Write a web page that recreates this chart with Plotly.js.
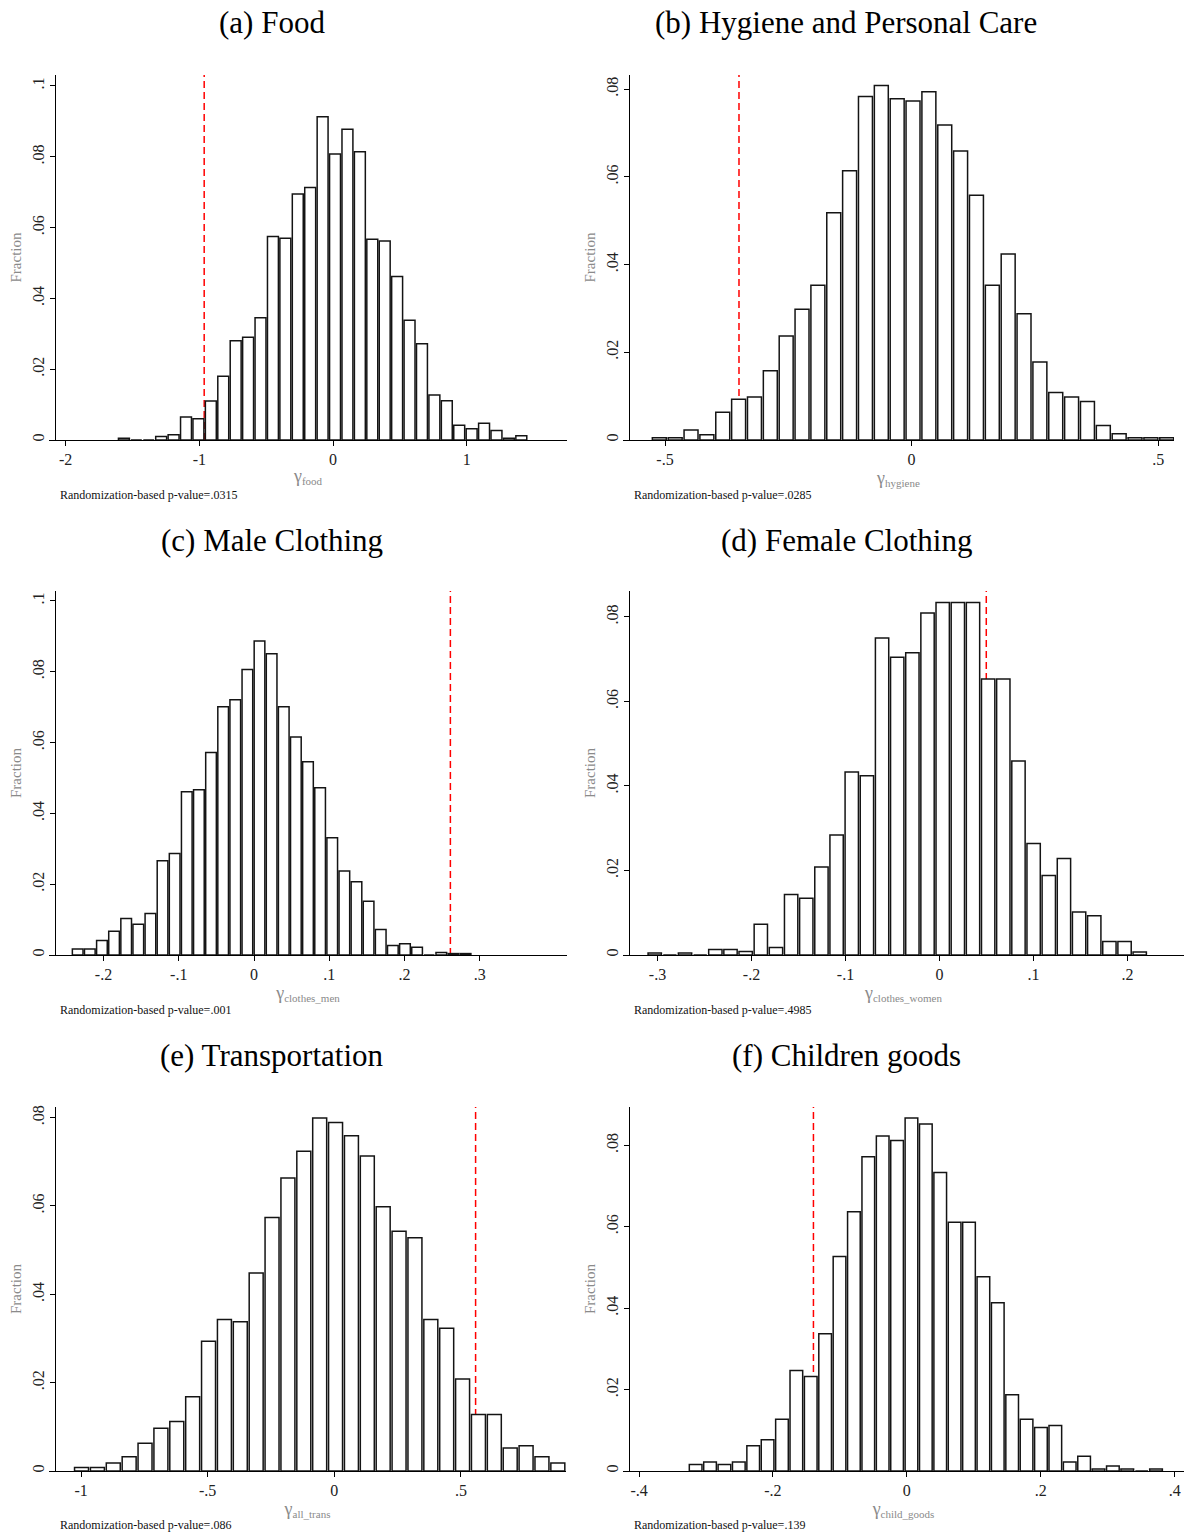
<!DOCTYPE html>
<html>
<head>
<meta charset="utf-8">
<script src="https://cdn.plot.ly/plotly-3.0.1.min.js"></script>
<style>
  html, body { margin: 0; padding: 0; background: #ffffff; }
  #chart { width: 1185px; height: 1533px; }
</style>
</head>
<body>
<div id="chart"></div>
<script>
// ---------------- DATA ----------------
// Panel titles and x-axis subscripts
const panelTitles = ['(a) Food', '(b) Hygiene and Personal Care', '(c) Male Clothing',
                     '(d) Female Clothing', '(e) Transportation', '(f) Children goods'];
const coefSubscripts = ['food', 'hygiene', 'clothes_men', 'clothes_women', 'all_trans', 'child_goods'];
const pValues = ['.0315', '.0285', '.001', '.4985', '.086', '.139'];

// Observed (actual) coefficients, drawn as red dashed lines
const observedCoef = [-0.964, -0.35, 0.261, 0.0497, 0.558, -0.1395];

// Histogram bins (33 bins: first bin lower edge and bin width) and fractions per bin
const foodBinStart = -1.611, foodBinWidth = 0.0929;
const foodFraction = [0.0005, 0, 0, 0.001, 0.0015, 0.0065, 0.006, 0.011, 0.018, 0.028, 0.029,
  0.0345, 0.0575, 0.057, 0.0695, 0.0713, 0.0913, 0.0808, 0.0878, 0.0814, 0.0567, 0.0562,
  0.0462, 0.0338, 0.0272, 0.0127, 0.0111, 0.0042, 0.0032, 0.0047, 0.0027, 0.0005, 0.0012];

const hygieneBinStart = -0.5276, hygieneBinWidth = 0.03215;
const hygieneFraction = [0.0005, 0.0005, 0.0023, 0.0012, 0.0063, 0.0093, 0.0098, 0.0158, 0.0237,
  0.0298, 0.0353, 0.0518, 0.0614, 0.0783, 0.0808, 0.0778, 0.0773, 0.0794, 0.0718, 0.0659,
  0.0558, 0.0353, 0.0424, 0.0288, 0.0178, 0.0108, 0.0098, 0.0088, 0.0033, 0.0014, 0.0005,
  0.0005, 0.0005];

const menBinStart = -0.2424, menBinWidth = 0.01611;
const menFraction = [0.0017, 0.0017, 0.0041, 0.0067, 0.0103, 0.0087, 0.0117, 0.0266, 0.0287,
  0.0461, 0.0467, 0.0572, 0.0701, 0.0721, 0.0806, 0.0887, 0.0851, 0.0701, 0.0616, 0.0546,
  0.0472, 0.0331, 0.0237, 0.0207, 0.0152, 0.0072, 0.0027, 0.0032, 0.0022, 0, 0.0007, 0.0004,
  0.0004];

const womenBinStart = -0.311, womenBinWidth = 0.01612;
const womenFraction = [0.0005, 0, 0.0005, 0, 0.0013, 0.0013, 0.0008, 0.0073, 0.0018, 0.0143,
  0.0134, 0.0208, 0.0284, 0.0433, 0.0424, 0.0750, 0.0704, 0.0715, 0.0809, 0.0834, 0.0834,
  0.0834, 0.0653, 0.0653, 0.0459, 0.0264, 0.0188, 0.0228, 0.0102, 0.0093, 0.0032, 0.0032,
  0.0007];

const transBinStart = -1.0296, transBinWidth = 0.0627;
const transFraction = [0.0008, 0.0008, 0.0018, 0.0032, 0.0063, 0.0097, 0.0112, 0.0168, 0.0294,
  0.0343, 0.0338, 0.0448, 0.0574, 0.0663, 0.0724, 0.0799, 0.0789, 0.0759, 0.0713, 0.0598,
  0.0543, 0.0528, 0.0343, 0.0323, 0.0208, 0.0128, 0.0128, 0.0052, 0.0057, 0.0032, 0.0018];

const childBinStart = -0.3262, childBinWidth = 0.02149;
const childFraction = [0.0016, 0.0022, 0.0016, 0.0022, 0.0062, 0.0077, 0.0127, 0.0247, 0.0232,
  0.0337, 0.0527, 0.0637, 0.0772, 0.0823, 0.0812, 0.0867, 0.0852, 0.0733, 0.0611, 0.0611,
  0.0477, 0.0413, 0.0187, 0.0127, 0.0107, 0.0112, 0.0022, 0.0036, 0.0005, 0.0012, 0.0005, 0,
  0.0005];

// Tick values and labels
const foodXTicks = [-2, -1, 0, 1];            const foodXLabels = ['-2', '-1', '0', '1'];
const hygieneXTicks = [-0.5, 0, 0.5];         const hygieneXLabels = ['-.5', '0', '.5'];
const menXTicks = [-0.2, -0.1, 0, 0.1, 0.2, 0.3];
const menXLabels = ['-.2', '-.1', '0', '.1', '.2', '.3'];
const womenXTicks = [-0.3, -0.2, -0.1, 0, 0.1, 0.2];
const womenXLabels = ['-.3', '-.2', '-.1', '0', '.1', '.2'];
const transXTicks = [-1, -0.5, 0, 0.5];       const transXLabels = ['-1', '-.5', '0', '.5'];
const childXTicks = [-0.4, -0.2, 0, 0.2, 0.4]; const childXLabels = ['-.4', '-.2', '0', '.2', '.4'];

const yTicks10 = [0, 0.02, 0.04, 0.06, 0.08, 0.1];
const yLabels10 = ['0', '.02', '.04', '.06', '.08', '.1'];
const yTicks08 = [0, 0.02, 0.04, 0.06, 0.08];
const yLabels08 = ['0', '.02', '.04', '.06', '.08'];

// ---------------- LAYOUT / STYLE ----------------
const W = 1185, H = 1533;
const serif = '"Liberation Serif", "DejaVu Serif", serif';
const AXIS_OVERHANG = 6;   // x-axis line starts a few px left of the y-axis (Stata look)

const rows = [[1 - 440 / H, 1 - 75 / H], [1 - 955 / H, 1 - 591 / H], [1 - 1471 / H, 1 - 1107 / H]];

const panels = [
  { start: foodBinStart, width: foodBinWidth, frac: foodFraction, xt: foodXTicks, xl: foodXLabels,
    yt: yTicks10, yl: yLabels10, xr: [-2.08, 1.75], yr: [0, 0.1031], col: [55, 567], left: true, row: 0 },
  { start: hygieneBinStart, width: hygieneBinWidth, frac: hygieneFraction, xt: hygieneXTicks, xl: hygieneXLabels,
    yt: yTicks08, yl: yLabels08, xr: [-0.573, 0.532], yr: [0, 0.0832], col: [629, 1174], left: false, row: 0 },
  { start: menBinStart, width: menBinWidth, frac: menFraction, xt: menXTicks, xl: menXLabels,
    yt: yTicks10, yl: yLabels10, xr: [-0.2645, 0.416], yr: [0, 0.1028], col: [55, 567], left: true, row: 1 },
  { start: womenBinStart, width: womenBinWidth, frac: womenFraction, xt: womenXTicks, xl: womenXLabels,
    yt: yTicks08, yl: yLabels08, xr: [-0.3303, 0.26], yr: [0, 0.0861], col: [629, 1184], left: false, row: 1 },
  { start: transBinStart, width: transBinWidth, frac: transFraction, xt: transXTicks, xl: transXLabels,
    yt: yTicks08, yl: yLabels08, xr: [-1.103, 0.915], yr: [0, 0.0824], col: [55, 566], left: true, row: 2 },
  { start: childBinStart, width: childBinWidth, frac: childFraction, xt: childXTicks, xl: childXLabels,
    yt: yTicks08, yl: yLabels08, xr: [-0.415, 0.414], yr: [0, 0.0894], col: [629, 1184], left: false, row: 2 }
];

const titleY = [1 - 23 / H, 1 - 540 / H, 1 - 1055 / H];
const noteY = [1 - 495 / H, 1 - 1010 / H, 1 - 1525 / H];

const traces = [];
const shapes = [];
const annotations = [];
const layout = {
  width: W, height: H,
  margin: { l: 0, r: 0, t: 0, b: 0 },
  paper_bgcolor: '#ffffff', plot_bgcolor: 'rgba(0,0,0,0)',
  showlegend: false,
  font: { family: serif, size: 14, color: '#222' },
  bargap: 0
};

panels.forEach((p, i) => {
  const n = i + 1;
  const xa = n === 1 ? 'x' : 'x' + n;
  const ya = n === 1 ? 'y' : 'y' + n;
  const centers = p.frac.map((_, k) => p.start + (k + 0.5) * p.width);
  // extend the x-axis a few pixels to the left of the y-axis, keeping the same scale
  const unitsPerPx = (p.xr[1] - p.xr[0]) / (p.col[1] - p.col[0]);
  const xRange = [p.xr[0] - AXIS_OVERHANG * unitsPerPx, p.xr[1]];
  traces.push({
    type: 'bar', x: centers, y: p.frac, xaxis: xa, yaxis: ya,
    width: p.width * 0.88,
    marker: { color: '#ffffff', line: { color: '#141414', width: 1.5 } },
    hoverinfo: 'x+y', cliponaxis: true
  });
  layout['xaxis' + (n === 1 ? '' : n)] = {
    domain: [(p.col[0] - AXIS_OVERHANG) / W, p.col[1] / W], anchor: ya, range: xRange, autorange: false,
    showline: true, linecolor: '#000', linewidth: 1, mirror: false,
    showgrid: false, zeroline: false,
    ticks: 'outside', ticklen: 5, tickwidth: 1, tickcolor: '#000',
    tickmode: 'array', tickvals: p.xt, ticktext: p.xl,
    tickfont: { family: serif, size: 16, color: '#222' },
    title: { text: '\u03b3<span style="font-size:11px;baseline-shift:-3px">' + coefSubscripts[i] + '</span>',
             standoff: 2, font: { family: serif, size: 18, color: '#8a8a8a' } }
  };
  layout['yaxis' + (n === 1 ? '' : n)] = {
    domain: rows[p.row], anchor: 'free', position: p.col[0] / W, overlaying: undefined,
    range: p.yr, autorange: false,
    showline: true, linecolor: '#000', linewidth: 1,
    showgrid: false, zeroline: false,
    ticks: 'outside', ticklen: 5, tickwidth: 1, tickcolor: '#000',
    tickmode: 'array', tickvals: p.yt, ticktext: p.yl, tickangle: -90,
    tickfont: { family: serif, size: 16, color: '#222' },
    title: { text: 'Fraction', standoff: 3, font: { family: serif, size: 15, color: '#8a8a8a' } }
  };
  shapes.push({
    type: 'line', layer: 'below', xref: xa, yref: ya + ' domain',
    x0: observedCoef[i], x1: observedCoef[i], y0: 0, y1: 1,
    line: { color: '#ff0000', width: 1.5, dash: '7px,4px' }
  });
  annotations.push({
    xref: 'paper', yref: 'paper', x: (p.left ? 272 : 846) / W, y: titleY[p.row],
    xanchor: 'center', yanchor: 'middle',
    text: panelTitles[i], showarrow: false, font: { family: serif, size: 31, color: '#000' }
  });
  annotations.push({
    xref: 'paper', yref: 'paper', x: (p.left ? 58 : 632) / W, y: noteY[p.row],
    xanchor: 'left', yanchor: 'middle',
    text: 'Randomization-based p-value=' + pValues[i], showarrow: false,
    font: { family: serif, size: 12, color: '#111' }
  });
});

layout.shapes = shapes;
layout.annotations = annotations;

Plotly.newPlot('chart', traces, layout, { displayModeBar: false, staticPlot: true });
</script>
</body>
</html>
